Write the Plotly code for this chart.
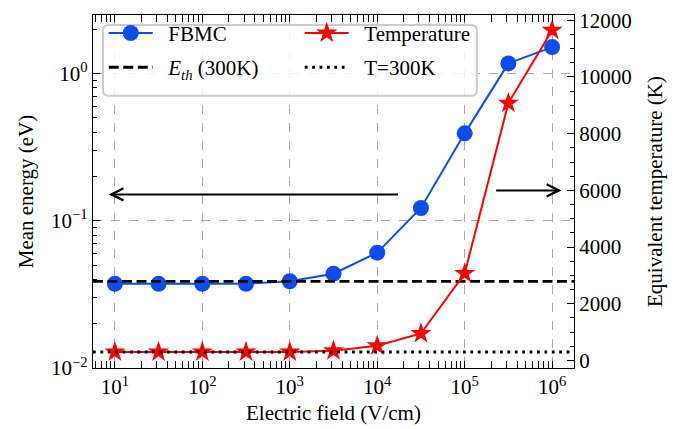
import plotly.graph_objects as go
import math

# ---- data ----
field = [10, 31.6, 100, 316, 1000, 3162, 1e4, 3.16e4, 1e5, 3.16e5, 1e6]
energy = [0.0373, 0.0373, 0.0373, 0.0373, 0.0388, 0.0437, 0.0607, 0.122, 0.392, 1.17, 1.51]
temperature = [300, 300, 300, 300, 300, 345, 517, 952, 3069, 9079, 11650]
E_th = 0.0388
T_room = 300
x_tick_vals = [10, 100, 1000, 1e4, 1e5, 1e6]
x_tick_text = ["10<sup>1</sup>", "10<sup>2</sup>", "10<sup>3</sup>",
               "10<sup>4</sup>", "10<sup>5</sup>", "10<sup>6</sup>"]
y_tick_vals = [0.01, 0.1, 1]
y_tick_text = ["10<sup>−2</sup>", "10<sup>−1</sup>", "10<sup>0</sup>"]
y2_tick_vals = [0, 2000, 4000, 6000, 8000, 10000, 12000]

BLUE = "#0f4cf0"
RED = "#ff0000"
FONT = "Liberation Serif"
FS = 21
xr = [0.75, 6.25]
PAD = "&nbsp;&nbsp;"

fig = go.Figure()

fig.add_trace(go.Scatter(
    x=field, y=energy, name=PAD + "FBMC", mode="lines+markers",
    line=dict(color=BLUE, width=2), marker=dict(color=BLUE, size=16),
    yaxis="y", legend="legend", legendrank=1))
fig.add_trace(go.Scatter(
    x=[10 ** xr[0], 10 ** xr[1]], y=[E_th, E_th],
    name=PAD + "<i>E</i><sub><i>th</i></sub> (300K)", mode="lines",
    line=dict(color="black", width=2.8, dash="10px,4.5px"),
    yaxis="y", legend="legend2", legendrank=3))
fig.add_trace(go.Scatter(
    x=field, y=temperature, name=PAD + "Temperature", mode="lines+markers",
    line=dict(color=RED, width=2), marker=dict(color=RED, size=16, symbol="star"),
    yaxis="y2", legend="legend", legendrank=2))
fig.add_trace(go.Scatter(
    x=[10 ** xr[0], 10 ** xr[1]], y=[T_room, T_room], name=PAD + "T=300K", mode="lines",
    line=dict(color="black", width=2.8, dash="2.8px,4.6px"),
    yaxis="y2", legend="legend2", legendrank=4))

# rounded legend frame
x0, x1, y0, y1, r = 0.0208, 0.798, 0.771, 0.972, 0.012
ry = r * 481 / 361.7
path = (f"M {x0 + r},{y1} L {x1 - r},{y1} Q {x1},{y1} {x1},{y1 - ry} "
        f"L {x1},{y0 + ry} Q {x1},{y0} {x1 - r},{y0} L {x0 + r},{y0} "
        f"Q {x0},{y0} {x0},{y0 + ry} L {x0},{y1 - ry} Q {x0},{y1} {x0 + r},{y1} Z")
fig.add_shape(type="path", path=path, xref="paper", yref="paper",
              fillcolor="rgba(255,255,255,0.85)", line=dict(color="#cccccc", width=2),
              layer="above")

axis_common = dict(showline=True, linecolor="black", linewidth=1.3, ticks="inside",
                   tickcolor="black", tickwidth=1.2, ticklen=7,
                   tickfont=dict(family=FONT, size=FS, color="black"))

fig.update_layout(
    width=686, height=429,
    margin=dict(l=93, r=112, t=9, b=58),
    paper_bgcolor="white", plot_bgcolor="white",
    font=dict(family=FONT, size=FS, color="black"),
    showlegend=True,
    xaxis=dict(type="log", range=xr, tickvals=x_tick_vals, ticktext=x_tick_text,
               mirror="allticks", showgrid=True, gridcolor="#a8a8a8", gridwidth=1,
               griddash="dash", zeroline=False,
               minor=dict(ticks="inside", ticklen=4, tickwidth=1, tickcolor="black",
                          dtick="D1", showgrid=False),
               title=dict(text="Electric field (V/cm)", standoff=6,
                          font=dict(family=FONT, size=FS)),
               **axis_common),
    yaxis=dict(type="log", range=[-2, 0.397], tickvals=y_tick_vals, ticktext=y_tick_text,
               showgrid=True, gridcolor="#a8a8a8", gridwidth=1, griddash="dash",
               zeroline=False, mirror=False,
               minor=dict(ticks="inside", ticklen=4, tickwidth=1, tickcolor="black",
                          dtick="D1", showgrid=False),
               title=dict(text="Mean energy (eV)", standoff=11,
                          font=dict(family=FONT, size=FS)),
               **axis_common),
    yaxis2=dict(overlaying="y", side="right", range=[-265, 12186],
                tickvals=y2_tick_vals, tickformat="d", showgrid=False, zeroline=False,
                minor=dict(ticks="inside", ticklen=4, tickwidth=1, tickcolor="black",
                           dtick=500),
                title=dict(text="Equivalent temperature (K)", standoff=16,
                           font=dict(family=FONT, size=FS)),
                **axis_common),
    legend=dict(orientation="h", x=0.0224, y=0.948, xanchor="left", yanchor="middle",
                bgcolor="rgba(0,0,0,0)", borderwidth=0, entrywidth=137,
                entrywidthmode="pixels", itemwidth=44,
                font=dict(family=FONT, size=FS, color="black")),
    legend2=dict(orientation="h", x=0.0224, y=0.851, xanchor="left", yanchor="middle",
                 bgcolor="rgba(0,0,0,0)", borderwidth=0, entrywidth=137,
                 entrywidthmode="pixels", itemwidth=44,
                 font=dict(family=FONT, size=FS, color="black")),
)

# arrows indicating axes
fig.add_annotation(x=math.log10(8.5), y=math.log10(0.151), ax=math.log10(1.8e4),
                   ay=math.log10(0.151), xref="x", yref="y", axref="x", ayref="y",
                   showarrow=True, arrowhead=5, arrowsize=1.2, arrowwidth=2,
                   arrowcolor="black", text="")
fig.add_annotation(x=math.log10(1.28e6), y=6000, ax=math.log10(2.2e5), ay=6000,
                   xref="x", yref="y2", axref="x", ayref="y2",
                   showarrow=True, arrowhead=5, arrowsize=1.2, arrowwidth=2,
                   arrowcolor="black", text="")

fig.write_html("out.html")
